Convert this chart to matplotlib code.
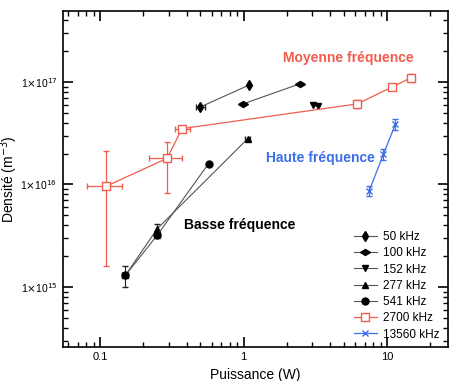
import numpy as np
import matplotlib
matplotlib.use('Agg')
import matplotlib.pyplot as plt
from matplotlib.markers import MarkerStyle
from matplotlib.transforms import Affine2D
from matplotlib.ticker import FixedLocator, FuncFormatter, LogLocator, NullFormatter

plt.rcParams['font.family'] = ['Liberation Sans', 'DejaVu Sans']

# data: power (W), density (m^-3)
p50 = [0.50, 1.09]
n50 = [5.7e16, 9.3e16]
p100 = [0.99, 2.48]
n100 = [6.1e16, 9.6e16]
p152 = [3.05, 3.3]
n152 = [5.9e16, 5.8e16]
p277 = [0.15, 0.25, 1.07]
n277 = [1.3e15, 3.7e15, 2.8e16]
p541 = [0.15, 0.25, 0.57]
n541 = [1.3e15, 3.2e15, 1.6e16]
p2700 = [0.11, 0.293, 0.372, 6.2, 10.8, 14.7]
n2700 = [9.6e15, 1.8e16, 3.5e16, 6.1e16, 8.9e16, 1.1e17]
p2700_lo = [0.081, 0.22, 0.33, 5.9, 10.4, 14.0]
p2700_hi = [0.142, 0.37, 0.42, 6.5, 11.2, 15.4]
n2700_lo = [1.6e15, 8.2e15, 3.3e16, 5.6e16, 8.5e16, 1.0e17]
n2700_hi = [2.1e16, 2.6e16, 3.7e16, 6.6e16, 9.3e16, 1.2e17]
p13560 = [7.5, 9.4, 11.4]
n13560 = [8.7e15, 1.96e16, 3.85e16]

line_c = '#555555'
red = '#f25c4c'
blue = '#3d6fe8'

fig = plt.figure(figsize=(4.52, 3.81), dpi=100)
ax = fig.add_axes([0.139, 0.089, 0.852, 0.882])

def rel(vals, frac):
    return [v * frac for v in vals]

eb = dict(fmt='none', ecolor='#222222', elinewidth=0.8, capsize=2)
# error bars (only where the picture shows them)
ax.errorbar(p50[:1], n50[:1], xerr=[rel(p50[:1], 0.07), rel(p50[:1], 0.07)], **eb)
ax.errorbar(p541[:2], n541[:2], yerr=[[0.3e15, 0.2e15], [0.3e15, 0.9e15]],
            xerr=[rel(p541[:2], 0.05), rel(p541[:2], 0.05)], **eb)
ax.errorbar(p277[2:], n277[2:], xerr=[rel(p277[2:], 0.04), rel(p277[2:], 0.04)], **eb)
ax.errorbar(p2700, n2700,
            xerr=[np.array(p2700) - np.array(p2700_lo), np.array(p2700_hi) - np.array(p2700)],
            yerr=[np.array(n2700) - np.array(n2700_lo), np.array(n2700_hi) - np.array(n2700)],
            fmt='none', ecolor=red, elinewidth=0.9, capsize=2.5)
ax.errorbar(p13560, n13560, yerr=[rel(n13560, 0.12), rel(n13560, 0.12)],
            fmt='none', ecolor=blue, elinewidth=0.9, capsize=2.5)

mk = dict(color=line_c, mfc='black', mec='black', lw=0.8)
ax.plot(p50, n50, marker='d', ms=5, label='50 kHz', **mk)
wide_d = MarkerStyle('d', transform=Affine2D().rotate_deg(90))
ax.plot(p100, n100, marker=wide_d, ms=5, label='100 kHz', **mk)
ax.plot(p152, n152, marker='v', ms=5, label='152 kHz', **mk)
ax.plot(p277, n277, marker='^', ms=5, label='277 kHz', **mk)
ax.plot(p541, n541, marker='o', ms=5, label='541 kHz', **mk)
ax.plot(p2700, n2700, color=red, marker='s', ms=5.5, mfc='white', mec=red, lw=0.9, label='2700 kHz')
ax.plot(p13560, n13560, color=blue, marker='x', ms=4, lw=0.9, label='13560 kHz')

ax.text(1.88, 1.7e17, 'Moyenne fréquence', color=red, fontsize=10, fontweight='bold', ha='left', va='center')
ax.text(1.43, 1.8e16, 'Haute fréquence', color=blue, fontsize=10, fontweight='bold', ha='left', va='center')
ax.text(0.385, 4.0e15, 'Basse fréquence', color='black', fontsize=10, fontweight='bold', ha='left', va='center')

ax.set_xscale('log')
ax.set_yscale('log')
ax.set_xlim(0.055, 26.5)
ax.set_ylim(2.6e14, 4.9e17)

ax.xaxis.set_major_locator(FixedLocator([0.1, 1, 10]))
ax.xaxis.set_major_formatter(FuncFormatter(lambda v, pos: '%g' % v))
ax.xaxis.set_minor_locator(LogLocator(base=10, subs=np.arange(2, 10)))
ax.xaxis.set_minor_formatter(NullFormatter())
ax.yaxis.set_major_locator(FixedLocator([1e15, 1e16, 1e17]))
ax.yaxis.set_major_formatter(FuncFormatter(lambda v, pos: r'1$\times$10$^{%d}$' % round(np.log10(v))))
ax.yaxis.set_minor_locator(LogLocator(base=10, subs=np.arange(2, 10)))
ax.yaxis.set_minor_formatter(NullFormatter())
ax.tick_params(which='both', direction='in', top=True, right=True, labelsize=8, width=1)
ax.tick_params(axis='y', labelsize=7.5, pad=4)
ax.tick_params(which='major', length=7, width=1.2)
ax.tick_params(which='minor', length=3.5)
for s in ax.spines.values():
    s.set_linewidth(1.2)

ax.set_xlabel('Puissance (W)', fontsize=10, labelpad=4)
ax.set_ylabel('Densité (m$^{-3}$)', fontsize=10)
ax.yaxis.set_label_coords(-0.11, 0.5)

ax.legend(loc='lower right', frameon=False, fontsize=8.5, handlelength=2.0, handletextpad=0.5,
          labelspacing=0.36, borderaxespad=0.3, bbox_to_anchor=(1.0, -0.005))

fig.savefig('out.png', dpi=100)
